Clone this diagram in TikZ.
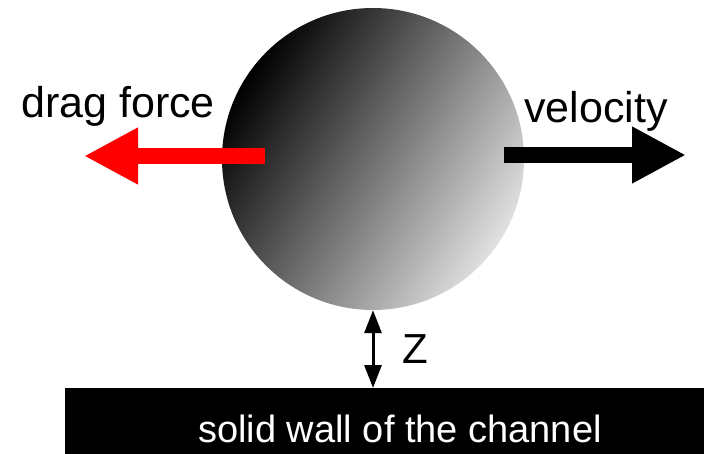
\documentclass[tikz,border=0pt]{standalone}
\usepackage{fontspec}
\setmainfont{Liberation Sans}
\usetikzlibrary{arrows.meta}
\definecolor{dragred}{RGB}{255,0,0}
\begin{document}
\begin{tikzpicture}[x=1pt,y=-1pt,
  lbl/.style={font=\fontsize{43}{50}\selectfont, inner sep=0, anchor=base},
  bigarrow/.style={line width=16pt, -{Triangle[length=54pt,width=53pt]}},
  zarrow/.style={line width=3pt, {Triangle[length=23pt,width=17pt]}-{Triangle[length=23pt,width=17pt]}},
]
\useasboundingbox (0,0) rectangle (704,454);
\node[circle, inner sep=0, minimum size=302pt, left color=black, right color=black!12, shading angle=58] (ball) at (373,159) {};
\coordinate (dragstart) at (265,156);
\coordinate (dragend) at (84,156);
\coordinate (velstart) at (504,155);
\coordinate (velend) at (686,155);
\draw[bigarrow, draw=dragred, fill=dragred] (dragstart) -- (dragend);
\draw[bigarrow, draw=black, fill=black] (velstart) -- (velend);
\node[fill=black, inner sep=0, minimum width=639pt, minimum height=66pt, anchor=north west] (wall) at (65,388) {};
\draw[zarrow] (ball.south) -- (ball.south |- wall.north);
\node[lbl] (draglbl) at (118,118) {drag force};
\node[lbl] (vellbl) at (596,123) {velocity};
\node[lbl, font=\fontsize{42}{50}\selectfont] (zlbl) at (415,363) {Z};
\node[lbl, font=\fontsize{38}{46}\selectfont, text=white] (walllbl) at (400,442) {solid wall of the channel};
\end{tikzpicture}
\end{document}
